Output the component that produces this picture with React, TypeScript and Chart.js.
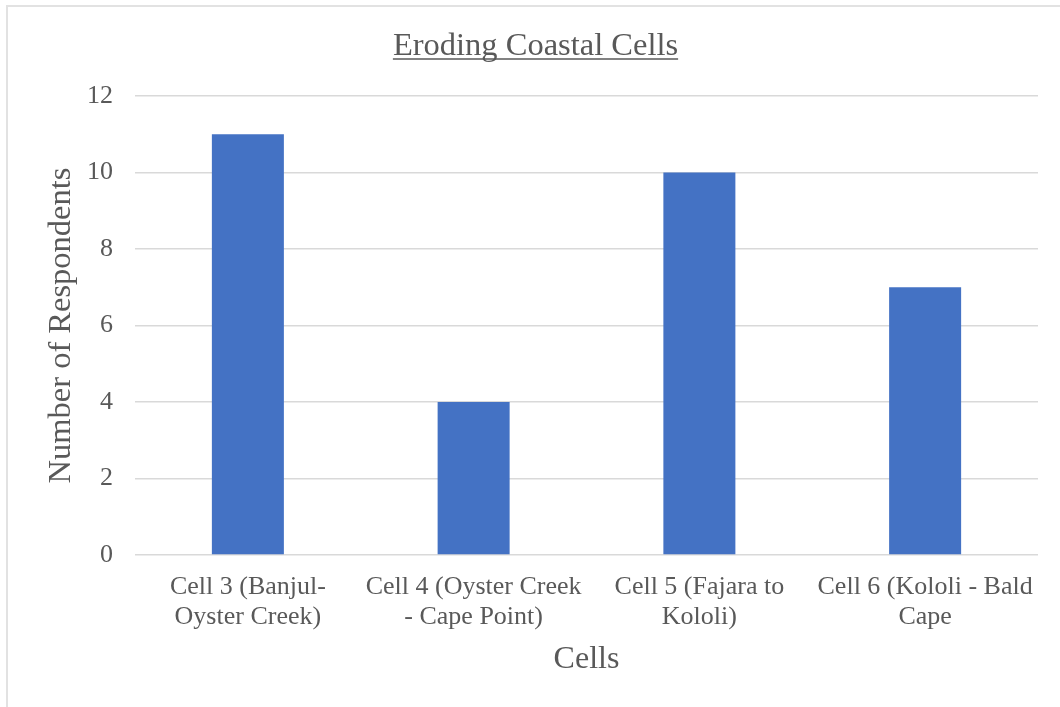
import React, { useEffect, useRef } from "react";
import { Chart, registerables } from "chart.js";

Chart.register(...registerables);

// Coastal cells surveyed and how many respondents named each as eroding
const cellLabels: string[][] = [
  ["Cell 3 (Banjul-", "Oyster Creek)"],
  ["Cell 4 (Oyster Creek", "- Cape Point)"],
  ["Cell 5 (Fajara to", "Kololi)"],
  ["Cell 6 (Kololi - Bald", "Cape"],
];
const respondents: number[] = [11, 4, 10, 7];

const chartTitle = "Eroding Coastal Cells";
const yAxisTitle = "Number of Respondents";
const xAxisTitle = "Cells";

const SERIF = '"Liberation Serif", "Times New Roman", serif';
const TEXT = "#595959";
const GRID = "#d9d9d9";
const BAR = "#4472C4";

// Underlined chart title drawn above the plot
const titlePlugin = {
  id: "underlinedTitle",
  afterDraw(chart: Chart) {
    const { ctx } = chart;
    ctx.save();
    ctx.font = `32.5px ${SERIF}`;
    ctx.fillStyle = TEXT;
    ctx.textAlign = "center";
    ctx.textBaseline = "alphabetic";
    const cx = 535.5;
    const baseline = 55;
    ctx.fillText(chartTitle, cx, baseline);
    const w = ctx.measureText(chartTitle).width;
    ctx.strokeStyle = TEXT;
    ctx.lineWidth = 1.5;
    ctx.beginPath();
    ctx.moveTo(cx - w / 2, baseline + 4);
    ctx.lineTo(cx + w / 2, baseline + 4);
    ctx.stroke();
    ctx.restore();
  },
};

export default function App() {
  const canvasRef = useRef<HTMLCanvasElement | null>(null);

  useEffect(() => {
    const canvas = canvasRef.current;
    if (!canvas) return;
    const chart = new Chart(canvas, {
      type: "bar",
      data: {
        labels: cellLabels,
        datasets: [
          {
            data: respondents,
            backgroundColor: BAR,
            borderWidth: 0,
            barPercentage: 0.319,
            categoryPercentage: 1,
          },
        ],
      },
      options: {
        responsive: false,
        animation: false,
        layout: { padding: { left: 0, right: 22, top: 96, bottom: 0 } },
        plugins: {
          legend: { display: false },
          tooltip: { enabled: false },
          title: { display: false },
        },
        scales: {
          x: {
            grid: { display: false, drawTicks: false },
            border: { display: false },
            ticks: {
              color: TEXT,
              font: { family: SERIF, size: 26, lineHeight: 30 / 26 },
              padding: 17,
              maxRotation: 0,
              autoSkip: false,
            },
            title: {
              display: true,
              text: xAxisTitle,
              color: TEXT,
              font: { family: SERIF, size: 32 },
              padding: { top: 0, bottom: 28 },
            },
            afterFit(scale: any) {
              scale.height = 152;
            },
          },
          y: {
            min: 0,
            max: 12,
            grid: { color: GRID, lineWidth: 1.5, drawTicks: false },
            border: { display: false },
            ticks: {
              stepSize: 2,
              color: TEXT,
              font: { family: SERIF, size: 26 },
              padding: 22,
            },
            title: {
              display: true,
              text: yAxisTitle,
              color: TEXT,
              font: { family: SERIF, size: 32.5 },
              padding: { top: 42, bottom: 0 },
            },
            afterFit(scale: any) {
              scale.width = 135;
            },
          },
        },
      },
      plugins: [titlePlugin],
    });
    return () => chart.destroy();
  }, []);

  return (
    <div>
      <div
        style={{
          position: "fixed",
          left: 6,
          top: 5,
          width: 2000,
          height: 2000,
          borderLeft: "2px solid #e2e2e2",
          borderTop: "2px solid #e2e2e2",
          background: "#ffffff",
        }}
      />
      <canvas
        ref={canvasRef}
        width={1060}
        height={707}
        style={{ position: "fixed", left: 0, top: 0, display: "block" }}
      />
    </div>
  );
}
